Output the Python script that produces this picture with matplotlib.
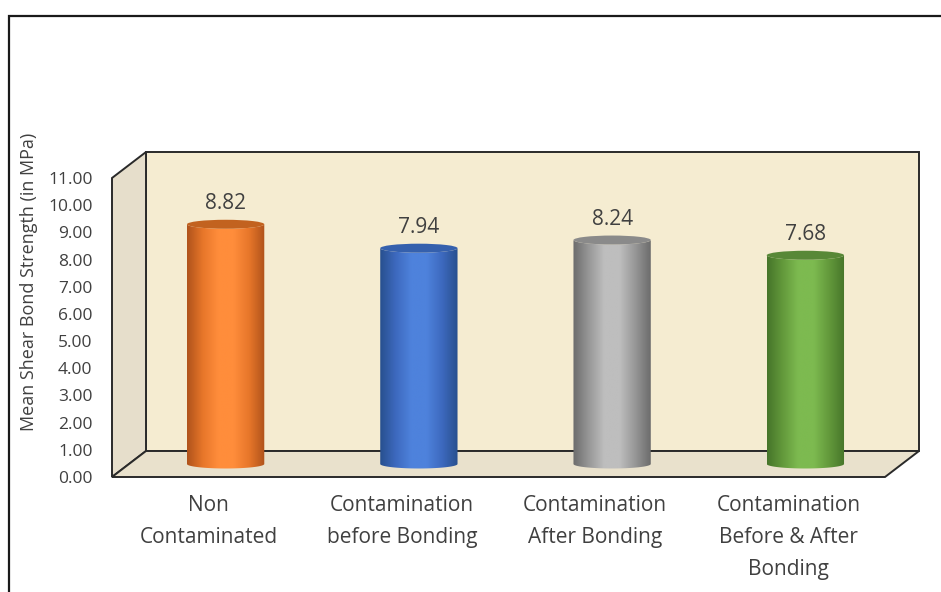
import numpy as np
import matplotlib
matplotlib.use('Agg')
import matplotlib.pyplot as plt
from matplotlib.patches import Polygon, Ellipse, PathPatch, Rectangle
from matplotlib.path import Path
from matplotlib.colors import LinearSegmentedColormap


#DATA

categories = ['Non\nContaminated', 'Contamination\nbefore Bonding',
              'Contamination\nAfter Bonding', 'Contamination\nBefore & After\nBonding']
values = [8.82, 7.94, 8.24, 7.68]
yticks = np.arange(0, 12, 1)

# dark edge, mid, highlight, top ellipse
shades = [('#B0531B', '#E7762A', '#FF8D3B', '#C2621F'),
          ('#28508F', '#3D69BE', '#4E82DC', '#3560AD'),
          ('#6C6C6C', '#979797', '#BEBEBE', '#8A8A8A'),
          ('#46752A', '#63993B', '#7DBA50', '#588837')]

txt = '#404040'
plt.rcParams['font.family'] = ['Open Sans', 'DejaVu Sans']


#FIGURE SET UP

fig = plt.figure(figsize=(9.41, 5.92), dpi=100)
ax = fig.add_axes([112/941, 1 - 477/592, 773/941, 299/592])

x0, x1 = -0.5, 3.5
ymax = 11
dx = 34 / (773 / 4)     # depth shift in category units
dy = 26 / (299 / 11)    # depth shift in value units

edge = dict(edgecolor='#2a2a2a', linewidth=1.4, clip_on=False)

# back wall, side wall and floor
ax.add_patch(Polygon([(x0+dx, dy), (x1+dx, dy), (x1+dx, ymax+dy), (x0+dx, ymax+dy)],
                     facecolor='#F5ECD1', zorder=0, **edge))
ax.add_patch(Polygon([(x0, 0), (x0+dx, dy), (x0+dx, ymax+dy), (x0, ymax)],
                     facecolor='#E6DECB', zorder=0, **edge))
ax.add_patch(Polygon([(x0, 0), (x1, 0), (x1+dx, dy), (x0+dx, dy)],
                     facecolor='#E9E1CC', zorder=0, **edge))


#CYLINDERS

hw = 0.2
eh = 0.33
ox, oy = dx / 2, dy / 2
th = np.linspace(np.pi, 2*np.pi, 40)

for i, v in enumerate(values):
    cx = i + ox
    yb, yt = oy, v + oy
    # outline: bottom half ellipse, right side up, front half of the top, left side down
    bot = np.column_stack([cx + hw*np.cos(th), yb + eh/2*np.sin(th)])
    top = np.column_stack([cx + hw*np.cos(th[::-1]), yt + eh/2*np.sin(th[::-1])])
    pts = np.vstack([bot, top, bot[:1]])
    body = PathPatch(Path(pts), facecolor='none', edgecolor='none')
    ax.add_patch(body)

    d, m, l, tcol = shades[i]
    cmap = LinearSegmentedColormap.from_list('c%d' % i, [d, m, l, l, m, d],)
    grad = np.linspace(0, 1, 200)[None, :]
    im = ax.imshow(grad, cmap=cmap, aspect='auto', interpolation='bilinear',
                   extent=(cx-hw, cx+hw, yb-eh, yt+eh), zorder=2)
    im.set_clip_path(body)

    ax.add_patch(Ellipse((cx, yt), 2*hw, eh, facecolor=tcol, edgecolor='none', zorder=3))

    ax.text(cx, yt + eh/2 + 0.22, '%.2f' % v, ha='center', va='bottom',
            fontsize=15, color=txt, zorder=4)


#AXES

ax.set_xlim(x0, x1)
ax.set_ylim(0, ymax)
ax.set_xticks(range(len(categories)))
ax.set_xticklabels(categories, fontsize=15, color=txt, linespacing=1.7)
ax.set_yticks(yticks)
ax.set_yticklabels(['%.2f' % t for t in yticks], fontsize=12.5, color=txt)
ax.tick_params(axis='both', length=0)
ax.tick_params(axis='y', pad=14)
ax.tick_params(axis='x', pad=13)
for s in ax.spines.values():
    s.set_visible(False)
ax.patch.set_visible(False)

ax.set_ylabel('Mean Shear Bond Strength (in MPa)', fontsize=13, color=txt)
ax.yaxis.set_label_coords(-0.096, 0.652)

# outer chart border (runs off the right and bottom edges)
fig.patches.append(Rectangle((8.5/941, -0.2), 1.2, 1.2 - 15.5/592, transform=fig.transFigure,
                             facecolor='none', edgecolor='#1a1a1a', linewidth=1.6))

plt.savefig('out.png', dpi=100)
